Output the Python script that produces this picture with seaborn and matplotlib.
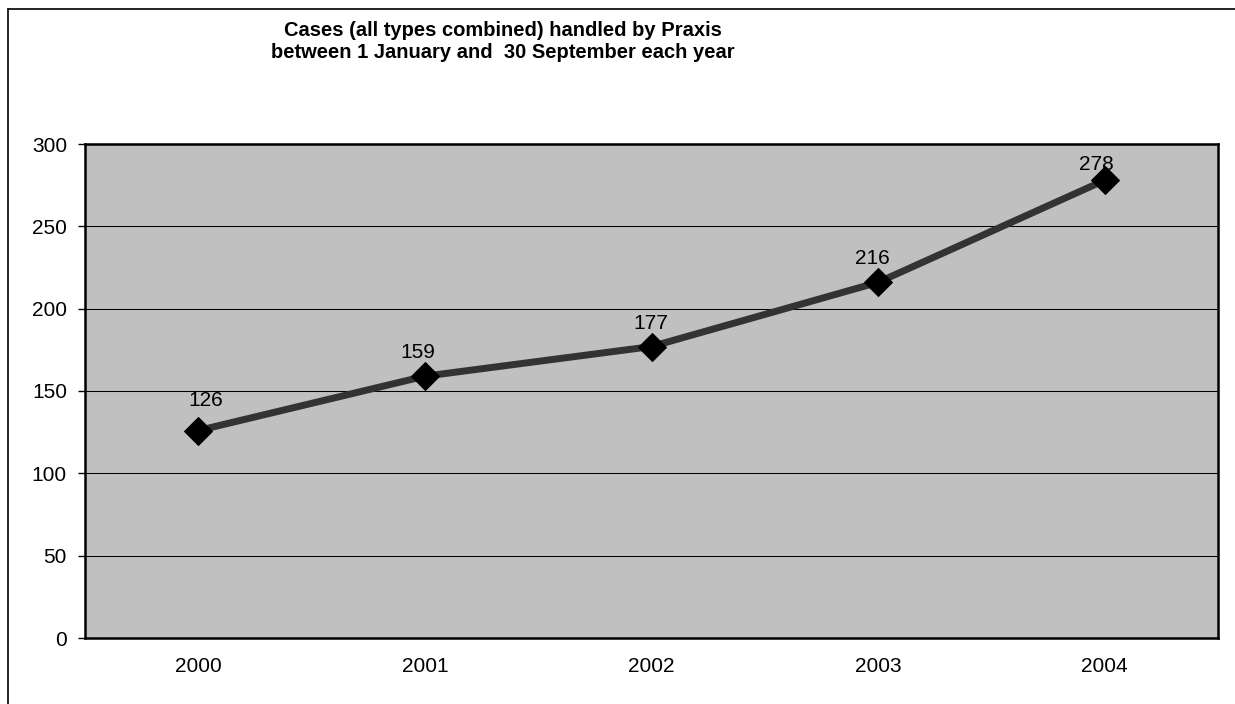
import matplotlib
matplotlib.use("Agg")
import matplotlib.pyplot as plt
from matplotlib.lines import Line2D
import seaborn as sns
import pandas as pd

years = ["2000", "2001", "2002", "2003", "2004"]
cases = [126, 159, 177, 216, 278]
y_ticks = [0, 50, 100, 150, 200, 250, 300]
title_lines = ["Cases (all types combined) handled by Praxis",
               "between 1 January and  30 September each year"]

# label nudges in pixels (dx, dy above the marker)
label_dx = [7, -7, -1, -6, -8]
label_dy = [30, 24, 23, 24, 16]

sns.set_style("white")
plt.rcParams["font.family"] = ["Liberation Sans", "DejaVu Sans"]
plt.rcParams["text.color"] = "black"
plt.rcParams["xtick.color"] = "black"
plt.rcParams["ytick.color"] = "black"

df = pd.DataFrame({"pos": range(len(years)), "year": years, "cases": cases})

fig = plt.figure(figsize=(12.35, 7.04), dpi=100)
ax = fig.add_axes([85 / 1235, 1 - 638 / 704, (1218 - 85) / 1235, (638 - 144) / 704])
ax.set_facecolor("#C0C0C0")

sns.lineplot(
    data=df,
    x="pos",
    y="cases",
    ax=ax,
    color="#333333",
    linewidth=5,
    marker="D",
    markersize=14.5,
    markerfacecolor="black",
    markeredgecolor="black",
    zorder=3,
)

for i, row in df.iterrows():
    ax.annotate(
        str(row["cases"]),
        (row["pos"], row["cases"]),
        xytext=(label_dx[i] * 0.72, label_dy[i] * 0.72),
        textcoords="offset points",
        ha="center",
        va="center",
        fontsize=15,
        color="black",
        zorder=4,
    )

ax.set_xlim(-0.5, len(years) - 0.5)
ax.set_ylim(0, 300)
ax.set_yticks(y_ticks)
ax.set_yticklabels([str(v) for v in y_ticks], fontsize=15)
ax.set_xticks(range(len(years)))
ax.set_xticklabels(years, fontsize=15)
ax.set_xticks([i - 0.5 for i in range(len(years) + 1)], minor=True)
ax.tick_params(axis="x", which="major", length=0, pad=14)
ax.tick_params(axis="x", which="minor", length=5, width=1, color="black", direction="out")
ax.tick_params(axis="y", which="major", length=5, width=1, color="black", direction="out", pad=8, left=True)
ax.set_xlabel("")
ax.set_ylabel("")

for v in y_ticks[1:-1]:
    ax.axhline(v, color="black", linewidth=0.75, zorder=1)

for s in ax.spines.values():
    s.set_visible(True)
    s.set_color("black")
    s.set_linewidth(1.8)

for k, line in enumerate(title_lines):
    fig.text(503 / 1235, 1 - (31 + 22 * k) / 704, line, ha="center", va="center",
             fontsize=14.5, fontweight="bold", color="black")

# outer chart border (cropped on the right and bottom)
fig.add_artist(Line2D([8 / 1235, 8 / 1235], [1 - 9 / 704, -0.1], color="black", linewidth=1.2))
fig.add_artist(Line2D([8 / 1235, 1.1], [1 - 9 / 704, 1 - 9 / 704], color="black", linewidth=1.2))

fig.savefig("out.png", dpi=100)
